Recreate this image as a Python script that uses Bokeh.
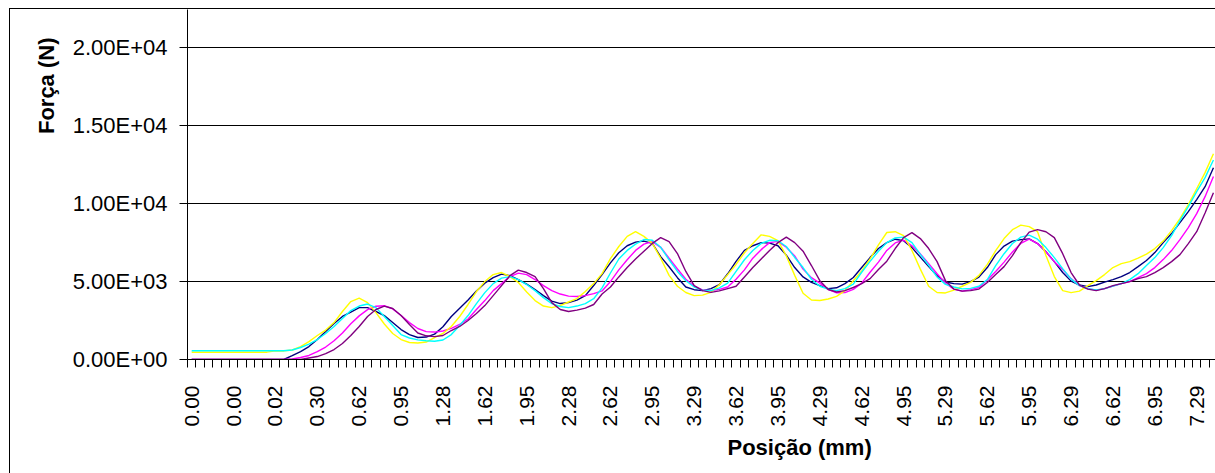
import math
from bokeh.plotting import figure
from bokeh.models import FixedTicker, Title, Range1d
from bokeh.embed import file_html
from bokeh.resources import INLINE

# ---------------- data ----------------
tick_labels = ["0.00", "0.00", "0.02", "0.30", "0.62", "0.95", "1.28", "1.62", "1.95",
               "2.28", "2.62", "2.95", "3.29", "3.62", "3.95", "4.29", "4.62", "4.95",
               "5.29", "5.62", "5.95", "6.29", "6.62", "6.95", "7.29"]
label_step = 5  # one position label every 5 categories

serie_1 = [0, 0, 0, 0, 0, 0, 0, 0, 0, 0,
           0, 0, 250, 510, 830, 1280, 1790, 2310, 2760, 3040,
           3330, 3330, 3080, 2820, 2370, 1920, 1600, 1410, 1440, 1630,
           2100, 2760, 3290, 3820, 4400, 4900, 5250, 5480, 5380, 5130,
           4840, 4490, 4100, 3750, 3590, 3650, 3810, 4100, 4750, 5450,
           6200, 6850, 7300, 7530, 7600, 7450, 6600, 5950, 5250, 4650,
           4480, 4420, 4550, 4800, 5500, 6300, 7000, 7300, 7500, 7470,
           7300, 6700, 5900, 5300, 4950, 4740, 4550, 4600, 4870, 5260,
           5900, 6540, 7120, 7500, 7720, 7630, 7180, 6570, 5960, 5380,
           4970, 4870, 4840, 5000, 5290, 5900, 6730, 7280, 7600, 7690,
           7740, 7440, 6920, 6280, 5580, 5030, 4780, 4680, 4780, 4970,
           5130, 5320, 5580, 5960, 6350, 6860, 7500, 8080, 8780, 9490,
           10260, 11090, 12300]

serie_2 = [0, 0, 0, 0, 0, 0, 0, 0, 0, 0,
           0, 0, 30, 130, 260, 500, 800, 1200, 1700, 2300,
           2800, 3200, 3420, 3450, 3250, 2820, 2370, 1990, 1790, 1760,
           1830, 2000, 2250, 2600, 3210, 3780, 4420, 4870, 5320, 5540,
           5450, 5130, 4740, 4420, 4200, 4070, 4040, 4100, 4230, 4400,
           5000, 5750, 6400, 7000, 7400, 7560, 7200, 6500, 5810, 5150,
           4700, 4470, 4420, 4500, 4650, 5150, 5750, 6500, 7050, 7500,
           7580, 7200, 6650, 5800, 5250, 4900, 4500, 4280, 4290, 4500,
           4900, 5600, 6250, 7000, 7480, 7660, 7300, 6780, 6150, 5500,
           4900, 4520, 4390, 4480, 4620, 5100, 5650, 6250, 6900, 7450,
           7720, 7440, 6920, 6280, 5770, 5190, 4740, 4550, 4450, 4550,
           4710, 4870, 5000, 5260, 5510, 5900, 6410, 6990, 7690, 8460,
           9360, 10450, 11750]

serie_3 = [470, 470, 470, 470, 470, 470, 470, 470, 470, 470,
           550, 550, 610, 830, 1150, 1540, 1890, 2370, 3080, 3720,
           3940, 3650, 3010, 2280, 1670, 1280, 1090, 1060, 1120, 1410,
           1670, 2120, 2760, 3530, 4360, 5000, 5450, 5580, 5320, 4940,
           4330, 3780, 3430, 3330, 3460, 3690, 3910, 4360, 4870, 5510,
           6470, 7250, 7900, 8200, 7900, 7450, 6500, 5400, 4700, 4300,
           4100, 4130, 4310, 4800, 5450, 6100, 6850, 7450, 8000, 7900,
           7630, 6650, 5400, 4250, 3820, 3790, 3880, 4050, 4420, 5050,
           5680, 6450, 7350, 8150, 8200, 7950, 7000, 5800, 4700, 4300,
           4270, 4450, 4700, 4950, 5400, 6100, 6990, 7760, 8330, 8620,
           8530, 8200, 6670, 5320, 4420, 4290, 4390, 4740, 5060, 5450,
           5900, 6150, 6280, 6510, 6760, 7120, 7600, 8270, 9040, 9940,
           10960, 11990, 13200]

serie_4 = [560, 560, 560, 560, 560, 560, 560, 560, 560, 560,
           560, 560, 610, 770, 990, 1280, 1670, 2120, 2630, 3140,
           3430, 3560, 3330, 2760, 2180, 1600, 1380, 1260, 1200, 1170,
           1250, 1600, 2180, 2820, 3590, 4290, 4870, 5220, 5320, 5130,
           4810, 4420, 3970, 3590, 3400, 3330, 3430, 3590, 3900, 4600,
           5550, 6450, 7000, 7400, 7700, 7650, 7200, 6400, 5650, 5050,
           4650, 4450, 4420, 4600, 4900, 5650, 6400, 7000, 7450, 7650,
           7620, 7250, 6550, 5900, 5150, 4700, 4520, 4420, 4550, 4840,
           5600, 6300, 6950, 7500, 7800, 7850, 7500, 6750, 6050, 5300,
           4820, 4650, 4530, 4560, 4700, 5130, 6030, 6790, 7440, 7850,
           7980, 7720, 7180, 6540, 5830, 5160, 4740, 4550, 4470, 4550,
           4710, 4870, 5130, 5510, 6030, 6540, 7180, 7950, 8910, 9810,
           10770, 11670, 12800]

serie_5 = [0, 0, 0, 0, 0, 0, 0, 0, 0, 0,
           0, 0, 0, 0, 100, 190, 380, 640, 1030, 1540,
           2120, 2760, 3210, 3430, 3270, 2820, 2240, 1700, 1520, 1470,
           1540, 1860, 2120, 2500, 2950, 3460, 4100, 4740, 5380, 5740,
           5580, 5320, 4550, 3650, 3210, 3080, 3170, 3300, 3530, 4200,
           4650, 5300, 5900, 6450, 6950, 7450, 7820, 7560, 6800, 5650,
           4740, 4420, 4310, 4400, 4550, 4700, 5300, 5900, 6450, 7000,
           7500, 7850, 7500, 6950, 6030, 5060, 4490, 4330, 4420, 4620,
           4870, 5190, 5770, 6310, 7120, 7820, 8140, 7760, 7120, 6280,
           5060, 4520, 4390, 4420, 4520, 4940, 5450, 5960, 6670, 7500,
           8170, 8330, 8200, 7820, 6790, 5580, 4780, 4520, 4420, 4550,
           4740, 4870, 5000, 5190, 5320, 5580, 5900, 6280, 6730, 7440,
           8200, 9400, 10700]

series = [serie_1, serie_2, serie_3, serie_4, serie_5]
colors = ["#000080", "#FF00FF", "#FFFF00", "#00FFFF", "#800080"]
y_ticks = [0, 5000, 10000, 15000, 20000]
y_tick_labels = ["0.00E+00", "5.00E+03", "1.00E+04", "1.50E+04", "2.00E+04"]

# ---------------- layout constants (pixels) ----------------
W, H = 1215, 473
FRAME_L, FRAME_T, FRAME_B = 187, 9, 359
CAT_W = 8.375
X_START = -0.5
X_END = X_START + (W - FRAME_L) / CAT_W
Y_END = 22460.0

FONT = "Liberation Sans"

p = figure(width=W, height=H, output_backend="svg", toolbar_location=None,
           x_range=Range1d(X_START, X_END), y_range=Range1d(0, Y_END),
           min_border_left=FRAME_L, min_border_top=FRAME_T, min_border_right=0,
           min_border_bottom=H - FRAME_B)
p.outline_line_color = None
p.background_fill_color = "white"
p.border_fill_color = None
p.xgrid.visible = False
# chart-area border (thin black line on the left and top of the chart area)
p.styles = {"box-shadow": "inset 9px 8px 0 0 #ffffff, inset 10px 9px 0 0 #000000",
            "background-color": "#ffffff"}

n = len(serie_1)
xs = list(range(n))
for s, c in zip(series, colors):
    p.line(xs, s, line_color=c, line_width=1.4)

# x axis: category boundary ticks as minor ticks, labels every 5 categories
major = [i * label_step for i in range(len(tick_labels))]
minor = [k - 0.5 for k in range(0, 125)]
xa = p.xaxis[0]
xa.ticker = FixedTicker(ticks=major, minor_ticks=minor)
xa.major_label_overrides = {m: t for m, t in zip(major, tick_labels)}
xa.major_tick_out = 0
xa.major_tick_in = 0
xa.minor_tick_out = 8
xa.minor_tick_in = 0
xa.minor_tick_line_color = "black"
xa.axis_line_color = "black"
xa.major_label_orientation = math.pi / 2
xa.major_label_standoff = 18
xa.major_label_text_font = FONT
xa.major_label_text_font_size = "21px"
xa.major_label_text_color = "black"

ya = p.yaxis[0]
ya.ticker = FixedTicker(ticks=y_ticks, minor_ticks=[])
ya.major_label_overrides = {t: l for t, l in zip(y_ticks, y_tick_labels)}
ya.major_tick_out = 8
ya.major_tick_in = 0
ya.major_tick_line_color = "black"
ya.axis_line_color = "black"
ya.major_label_standoff = 12
ya.major_label_text_font = FONT
ya.major_label_text_font_size = "22px"
ya.major_label_text_color = "black"

p.ygrid.ticker = FixedTicker(ticks=y_ticks)
p.ygrid.grid_line_color = "black"
p.ygrid.grid_line_width = 1

# axis titles
p.add_layout(Title(text="Força (N)", align="right", offset=28, standoff=22,
                   text_font=FONT, text_font_size="22px", text_font_style="bold",
                   text_color="black"), "left")
p.add_layout(Title(text="Posição (mm)", align="left", offset=540, standoff=7,
                   text_font=FONT, text_font_size="22px", text_font_style="bold",
                   text_color="black"), "below")

open("out.html", "w").write(file_html(p, INLINE))
